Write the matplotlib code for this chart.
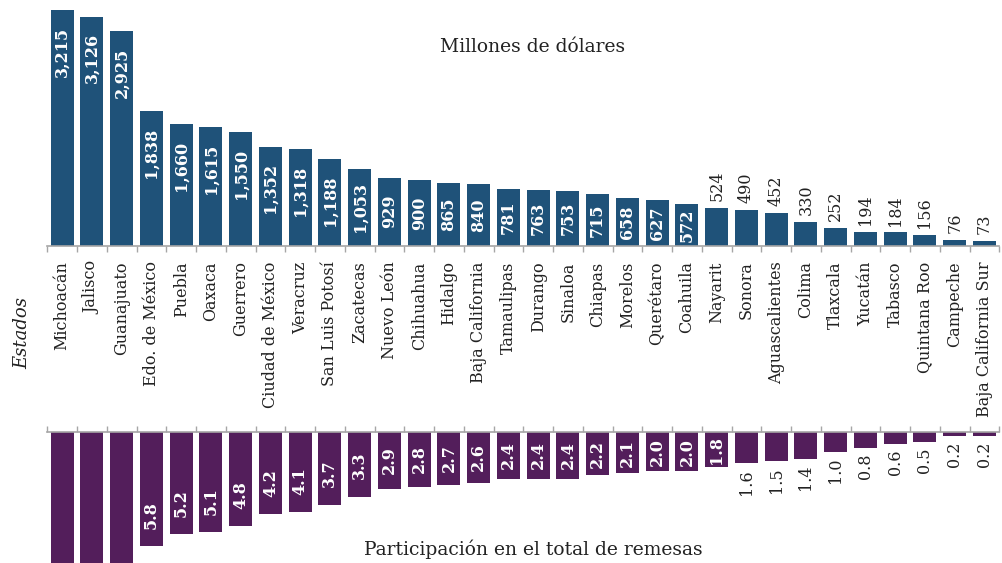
import matplotlib.pyplot as plt
import numpy as np

plt.rcParams['font.family'] = ['DejaVu Serif']

estados = ["Michoacán", "Jalisco", "Guanajuato", "Edo. de México", "Puebla", "Oaxaca",
           "Guerrero", "Ciudad de México", "Veracruz", "San Luis Potosí", "Zacatecas",
           "Nuevo León", "Chihuahua", "Hidalgo", "Baja California", "Tamaulipas",
           "Durango", "Sinaloa", "Chiapas", "Morelos", "Querétaro", "Coahuila",
           "Nayarit", "Sonora", "Aguascalientes", "Colima", "Tlaxcala", "Yucatán",
           "Tabasco", "Quintana Roo", "Campeche", "Baja California Sur"]
millones = [3215, 3126, 2925, 1838, 1660, 1615, 1550, 1352, 1318, 1188, 1053, 929,
            900, 865, 840, 781, 763, 753, 715, 658, 627, 572, 524, 490, 452, 330,
            252, 194, 184, 156, 76, 73]
participacion = [10.1, 9.9, 9.2, 5.8, 5.2, 5.1, 4.8, 4.2, 4.1, 3.7, 3.3, 2.9, 2.8,
                 2.7, 2.6, 2.4, 2.4, 2.4, 2.2, 2.1, 2.0, 2.0, 1.8, 1.6, 1.5, 1.4,
                 1.0, 0.8, 0.6, 0.5, 0.2, 0.2]

azul = "#1f5279"
morado = "#531e5b"
gris = "#a6a6a6"
texto = "#222222"

fig = plt.figure(figsize=(10.03, 5.63), dpi=100)
x0, x1 = 47.3 / 1003, 999.3 / 1003
top_h, bot_h = 246, 131   # axes heights in px
ax_top = fig.add_axes([x0, 1 - top_h / 563, x1 - x0, top_h / 563])
ax_bot = fig.add_axes([x0, 0, x1 - x0, bot_h / 563])

x = np.arange(len(estados))

# ----- top: millones de dolares -----
top_max = 3215 * 246 / 236
px_top = top_h / top_max  # px per unit
ax_top.bar(x, millones, width=0.77, color=azul)
ax_top.set_xlim(-0.5, len(estados) - 0.5)
ax_top.set_ylim(0, top_max)
for i, v in enumerate(millones):
    lab = f"{v:,}"
    if v >= 560:
        lab_px = 47 if v >= 1000 else 31
        ymid = max(v / 2, v - (18 + lab_px / 2) / px_top)
        ax_top.text(i, ymid, lab, rotation=90, ha="center", va="center", color="white",
                    fontsize=11.5, fontweight="bold")
    else:
        ax_top.annotate(lab, (i, v), xytext=(0, 5), textcoords="offset points",
                        rotation=90, ha="center", va="bottom", color=texto,
                        fontsize=11.5)

ax_top.set_xticks(np.arange(len(estados) + 1) - 0.5)
ax_top.set_xticklabels([])
ax_top.set_xticks(x, minor=True)
ax_top.set_xticklabels(estados, minor=True, rotation=90, fontsize=11.5, color=texto)
ax_top.tick_params(axis="x", which="major", direction="out", length=4.5, color=gris, width=1)
ax_top.tick_params(axis="x", which="minor", length=0, pad=11)
ax_top.set_yticks([])
for s in ["top", "left", "right"]:
    ax_top.spines[s].set_visible(False)
ax_top.spines["bottom"].set_color(gris)
ax_top.spines["bottom"].set_linewidth(1.2)

# ----- bottom: participacion -----
px_bot = 19.6
bot_max = bot_h / px_bot
ax_bot.bar(x, participacion, width=0.77, color=morado)
ax_bot.set_xlim(-0.5, len(estados) - 0.5)
ax_bot.set_ylim(bot_max, 0)
for i, v in enumerate(participacion):
    lab = f"{v:.1f}"
    if v >= 1.8:
        ymid = max(v / 2, v - (17 + 14) / px_bot)
        if ymid + 14 / px_bot > bot_max:
            continue  # label falls below the cropped panel, as in the original
        ax_bot.text(i, ymid, lab, rotation=90, ha="center", va="center", color="white",
                    fontsize=11.5, fontweight="bold")
    else:
        ax_bot.annotate(lab, (i, v), xytext=(0, -4), textcoords="offset points",
                        rotation=90, ha="center", va="top", color=texto,
                        fontsize=11.5)

ax_bot.xaxis.tick_top()
ax_bot.set_xticks(np.arange(len(estados) + 1) - 0.5)
ax_bot.set_xticklabels([])
ax_bot.tick_params(axis="x", direction="out", length=4.5, color=gris, width=1)
ax_bot.set_yticks([])
for s in ["bottom", "left", "right"]:
    ax_bot.spines[s].set_visible(False)
ax_bot.spines["top"].set_color(gris)
ax_bot.spines["top"].set_linewidth(1.2)

fig.text(533 / 1003, 1 - 47 / 563, "Millones de dólares", ha="center", va="center",
         fontsize=13.5, color=texto)
fig.text(533 / 1003, 1 - 549 / 563, "Participación en el total de remesas",
         ha="center", va="center", fontsize=13.5, color=texto)
fig.text(22 / 1003, 1 - 333 / 563, "Estados", rotation=90, ha="center", va="center",
         fontsize=13, style="italic", color=texto)

fig.savefig("out.png", dpi=100)
